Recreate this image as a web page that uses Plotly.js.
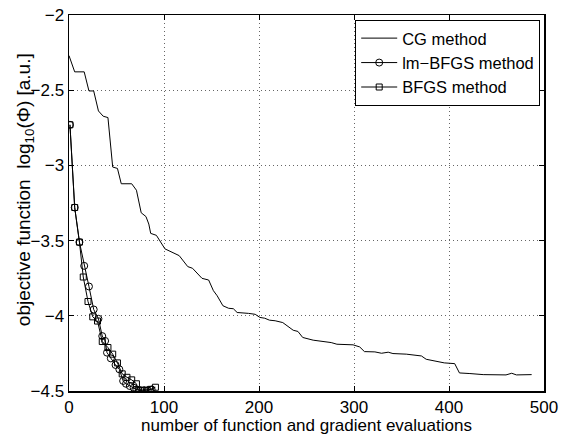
<!DOCTYPE html>
<html>
<head>
<meta charset="utf-8">
<script src="https://cdn.plot.ly/plotly-3.0.1.min.js"></script>
<style>html,body{margin:0;padding:0;background:#fff;}#chart{width:568px;height:435px;}</style>
</head>
<body>
<div id="chart"></div>
<script>
// CG method
const cgX = [0, 6, 16, 21, 26, 31, 36, 41, 46, 51, 55, 66, 71, 74, 76, 81, 84, 86, 92, 101, 108, 116, 125, 130, 140, 147, 152, 156, 162, 168, 173, 177, 189, 196, 201, 206, 211, 217, 225, 236, 241, 246, 257, 276, 282, 299, 306, 311, 322, 329, 336, 341, 355, 364, 371, 376, 381, 390, 395, 406, 411, 422, 436, 460, 466, 471, 487];
const cgY = [-2.27, -2.378, -2.378, -2.505, -2.505, -2.638, -2.673, -2.682, -3.011, -3.02, -3.122, -3.122, -3.165, -3.25, -3.315, -3.34, -3.39, -3.452, -3.465, -3.555, -3.574, -3.6, -3.673, -3.684, -3.751, -3.762, -3.833, -3.867, -3.933, -3.95, -3.953, -3.978, -3.984, -3.99, -4.011, -4.016, -4.029, -4.033, -4.045, -4.096, -4.104, -4.144, -4.162, -4.178, -4.189, -4.193, -4.207, -4.238, -4.24, -4.249, -4.242, -4.251, -4.255, -4.262, -4.267, -4.289, -4.296, -4.311, -4.313, -4.318, -4.38, -4.384, -4.391, -4.393, -4.382, -4.393, -4.391];

// lm-BFGS method
const lmX = [1, 6, 11, 16, 21, 26, 31, 35, 38, 40, 44, 49, 53, 57, 60, 64, 68, 71, 75, 79, 83, 87];
const lmY = [-2.73, -3.28, -3.51, -3.668, -3.805, -3.958, -4.02, -4.135, -4.167, -4.245, -4.283, -4.327, -4.356, -4.433, -4.452, -4.467, -4.478, -4.49, -4.495, -4.495, -4.495, -4.49];

// BFGS method
const bfX = [1, 6, 11, 15, 20, 25, 30, 35, 41, 46, 51, 56, 61, 66, 71, 73, 77, 82, 86, 91];
const bfY = [-2.73, -3.28, -3.51, -3.742, -3.905, -4.007, -4.035, -4.171, -4.211, -4.255, -4.313, -4.386, -4.409, -4.426, -4.452, -4.495, -4.495, -4.495, -4.489, -4.475];

const names = ["CG method", "lm\u2212BFGS method", "BFGS method"];
const xTitle = "number of function and gradient evaluations";
const yTitle = "objective function  log<sub>10</sub>(\u03A6) [a.u.]";

const traces = [
  {x: cgX, y: cgY, name: names[0], mode: "lines", line: {color: "#000", width: 1}},
  {x: lmX, y: lmY, name: names[1], mode: "lines+markers", line: {color: "#000", width: 1},
   marker: {symbol: "circle-open", size: 7, color: "#000", line: {width: 1}}},
  {x: bfX, y: bfY, name: names[2], mode: "lines+markers", line: {color: "#000", width: 1},
   marker: {symbol: "square-open", size: 6, color: "#000", line: {width: 1}}}
];

const FONT = "Liberation Sans, Arial, Helvetica, sans-serif";
const axisCommon = {
  showline: true, linecolor: "#000", linewidth: 1.5, mirror: "ticks",
  ticks: "inside", ticklen: 5, tickcolor: "#000", tickwidth: 1,
  showgrid: true, gridcolor: "#666", gridwidth: 1, griddash: "1px,3px",
  zeroline: false, tickfont: {family: FONT, size: 17, color: "#000"}
};

const layout = {
  width: 568, height: 435,
  margin: {l: 69, r: 24, t: 15, b: 44},
  paper_bgcolor: "#fff", plot_bgcolor: "#fff",
  font: {family: FONT, size: 17, color: "#000"},
  showlegend: true,
  legend: {x: 0.992, xanchor: "right", y: 0.987, yanchor: "top",
    bgcolor: "#fff", bordercolor: "#000", borderwidth: 1,
    font: {family: FONT, size: 16.5, color: "#000"}, itemwidth: 36, tracegroupgap: 0},
  xaxis: Object.assign({}, axisCommon, {range: [0, 500], dtick: 100, tick0: 0, ticklabelstandoff: 0,
    title: {text: xTitle, standoff: 0, font: {family: FONT, size: 17}}}),
  yaxis: Object.assign({}, axisCommon, {range: [-4.5, -2], dtick: 0.5, tick0: -2, automargin: false}),
  annotations: [{
    text: yTitle, xref: "paper", yref: "paper", x: -0.092, y: 0.535,
    xanchor: "center", yanchor: "middle", textangle: -90, showarrow: false,
    font: {family: FONT, size: 19, color: "#000"}
  }]
};

Plotly.newPlot("chart", traces, layout, {displayModeBar: false, staticPlot: true});
</script>
</body>
</html>
